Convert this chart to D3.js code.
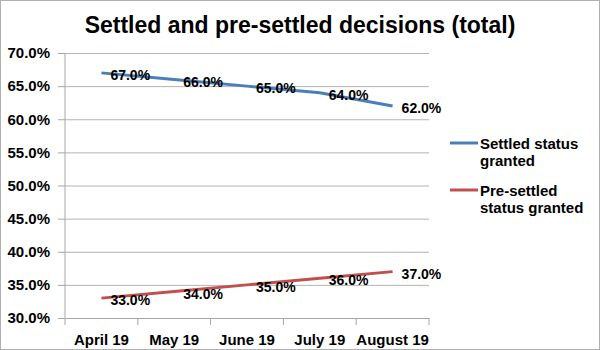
<!DOCTYPE html>
<html>
<head>
<meta charset="utf-8">
<script src="https://cdn.jsdelivr.net/npm/d3@7"></script>
<style>
  body { margin: 0; background: #fff; }
  svg { display: block; font-family: "Liberation Sans", Arial, sans-serif; font-weight: bold; }
</style>
</head>
<body>
<svg></svg>
<script>
const MONTHS = ['April 19', 'May 19', 'June 19', 'July 19', 'August 19'];
const SETTLED = [0.67, 0.66, 0.65, 0.64, 0.62];
const PRE_SETTLED = [0.33, 0.34, 0.35, 0.36, 0.37];
const Y_TICKS = [0.30, 0.35, 0.40, 0.45, 0.50, 0.55, 0.60, 0.65, 0.70];

const SERIES = [
  { name: ['Settled status', 'granted'], values: SETTLED, color: '#4a7ebb' },
  { name: ['Pre-settled', 'status granted'], values: PRE_SETTLED, color: '#c0504d' },
];

const WIDTH = 600;
const HEIGHT = 350;
const PLOT = { left: 65, right: 429, top: 53, bottom: 318 };

const svg = d3.select('svg')
    .attr('width', WIDTH)
    .attr('height', HEIGHT);

// frame round the picture
svg.append('rect')
    .attr('x', 0.5).attr('y', 0.5)
    .attr('width', WIDTH - 1).attr('height', HEIGHT - 1)
    .attr('fill', 'none')
    .attr('stroke', '#b0b0b0');

const x = d3.scaleBand()
    .domain(MONTHS)
    .range([PLOT.left, PLOT.right]);

const y = d3.scaleLinear()
    .domain([0.30, 0.70])
    .range([PLOT.bottom, PLOT.top]);

svg.append('text')
    .attr('x', WIDTH / 2)
    .attr('y', 33)
    .attr('text-anchor', 'middle')
    .attr('font-size', 23)
    .text('Settled and pre-settled decisions (total)');

// y axis with gridlines
const yAxis = svg.append('g')
    .attr('transform', `translate(${PLOT.left}, 0)`)
    .call(d3.axisLeft(y)
        .tickValues(Y_TICKS)
        .tickFormat(d3.format('.1%'))
        .tickSize(7)
        .tickPadding(8));

yAxis.selectAll('.tick text')
    .attr('font-size', 15)
    .attr('font-family', '"Liberation Sans", Arial, sans-serif')
    .attr('font-weight', 'bold')
    .attr('fill', '#000');
yAxis.selectAll('.tick line').attr('stroke', '#a6a6a6');
yAxis.select('.domain').attr('stroke', '#a6a6a6').attr('d', `M0,${PLOT.top}V${PLOT.bottom}`);

yAxis.selectAll('.tick')
    .filter(d => d > 0.30)
    .append('line')
    .attr('x1', 0)
    .attr('x2', PLOT.right - PLOT.left)
    .attr('stroke', '#b3b3b3');

// x axis
const xAxis = svg.append('g')
    .attr('transform', `translate(0, ${PLOT.bottom})`)
    .call(d3.axisBottom(x).tickSize(0).tickPadding(16));

xAxis.select('.domain').attr('stroke', '#a6a6a6');
xAxis.selectAll('.tick text')
    .attr('font-size', 15)
    .attr('font-family', '"Liberation Sans", Arial, sans-serif')
    .attr('font-weight', 'bold')
    .attr('fill', '#000');

xAxis.selectAll('.sep')
    .data(MONTHS.concat(['end']))
    .enter()
    .append('line')
    .attr('x1', (d, i) => i < MONTHS.length ? x(d) : x.range()[1])
    .attr('x2', (d, i) => i < MONTHS.length ? x(d) : x.range()[1])
    .attr('y1', 0)
    .attr('y2', 7)
    .attr('stroke', '#a6a6a6');

// lines
const line = d3.line()
    .x((d, i) => x(MONTHS[i]) + x.bandwidth() / 2)
    .y(d => y(d));

SERIES.forEach(s => {
  svg.append('path')
      .datum(s.values)
      .attr('fill', 'none')
      .attr('stroke', s.color)
      .attr('stroke-width', 3)
      .attr('d', line);

  svg.selectAll(null)
      .data(s.values)
      .enter()
      .append('text')
      .attr('x', (d, i) => x(MONTHS[i]) + x.bandwidth() / 2 + 9)
      .attr('y', d => y(d) + 7)
      .attr('font-size', 14)
      .attr('fill', '#000')
      .text(d => d3.format('.1%')(d));
});

// legend
const legend = svg.append('g');
SERIES.forEach((s, i) => {
  const ly = 143 + i * 47;
  legend.append('line')
      .attr('x1', 450).attr('x2', 478)
      .attr('y1', ly).attr('y2', ly)
      .attr('stroke', s.color)
      .attr('stroke-width', 3);
  s.name.forEach((t, j) => {
    legend.append('text')
        .attr('x', 480)
        .attr('y', ly + 6 + j * 17)
        .attr('font-size', 15)
        .text(t);
  });
});
</script>
</body>
</html>
